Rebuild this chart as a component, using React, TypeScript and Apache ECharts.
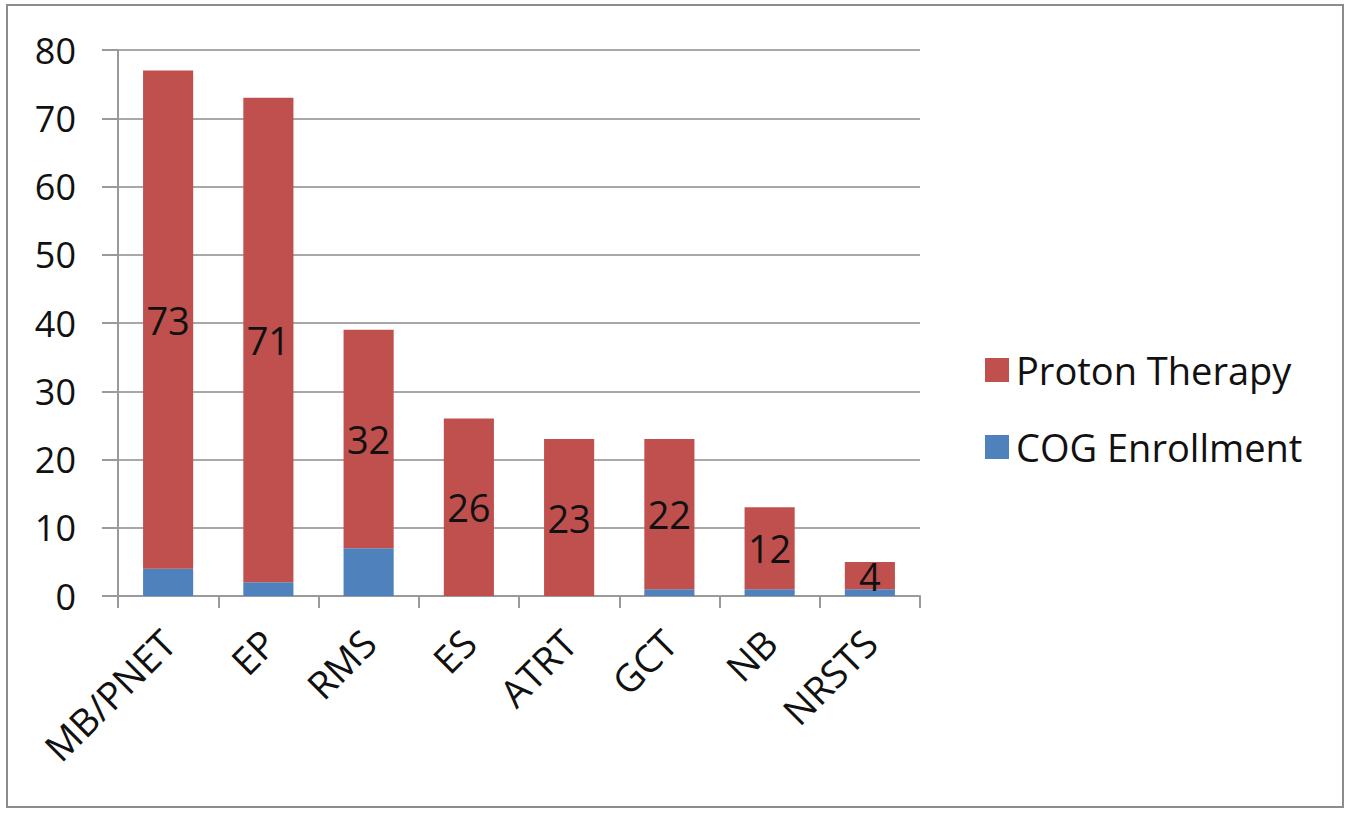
import React, { useEffect, useRef } from "react";
import * as echarts from "echarts";

const categories = ["MB/PNET", "EP", "RMS", "ES", "ATRT", "GCT", "NB", "NRSTS"];
const cogEnrollment = [4, 2, 7, 0, 0, 1, 1, 1];
const protonTherapy = [73, 71, 32, 26, 23, 22, 12, 4];
const yTicks = { min: 0, max: 80, interval: 10 };

const FONT = "'Open Sans', 'DejaVu Sans', sans-serif";

export default function App() {
  const ref = useRef<HTMLDivElement>(null);
  useEffect(() => {
    if (!ref.current) return;
    const chart = echarts.init(ref.current, undefined, { renderer: "svg" });
    chart.setOption({
      animation: false,
      backgroundColor: "#ffffff",
      graphic: [
        {
          type: "rect",
          shape: { x: 7, y: 5, width: 1336, height: 802 },
          style: { fill: "none", stroke: "#8c8c8c", lineWidth: 2 },
          silent: true,
        },
      ],
      legend: {
        orient: "vertical",
        left: 980,
        top: 345,
        itemWidth: 24,
        itemHeight: 24,
        itemGap: 37,
        data: ["Proton Therapy", "COG Enrollment"],
        textStyle: {
          fontSize: 38,
          lineHeight: 40,
          color: "#111",
          fontFamily: FONT,
          padding: [0, 0, 0, 2],
        },
        icon: "rect",
      },
      grid: { left: 118, right: 431, top: 50, bottom: 217 },
      xAxis: {
        type: "category",
        data: categories,
        axisLine: { lineStyle: { color: "#9a9a9a", width: 2 } },
        axisTick: { show: true, length: 12, lineStyle: { color: "#9a9a9a", width: 2 } },
        axisLabel: {
          rotate: 45,
          fontSize: 38,
          color: "#111",
          fontFamily: FONT,
          margin: 40,
          interval: 0,
        },
      },
      yAxis: {
        type: "value",
        min: yTicks.min,
        max: yTicks.max,
        interval: yTicks.interval,
        axisLine: { show: true, lineStyle: { color: "#9a9a9a", width: 2 } },
        axisTick: { show: true, length: 16, lineStyle: { color: "#9a9a9a", width: 2 } },
        splitLine: { lineStyle: { color: "#a8a8a8", width: 2 } },
        axisLabel: { fontSize: 36, color: "#111", fontFamily: FONT, margin: 42 },
      },
      series: [
        {
          name: "COG Enrollment",
          type: "bar",
          stack: "total",
          data: cogEnrollment,
          barWidth: "50%",
          itemStyle: { color: "#4F81BD" },
        },
        {
          name: "Proton Therapy",
          type: "bar",
          stack: "total",
          data: protonTherapy,
          barWidth: "50%",
          itemStyle: { color: "#C0504D" },
          label: {
            show: true,
            position: "inside",
            fontSize: 38,
            color: "#111",
            fontFamily: FONT,
          },
        },
      ],
    });
    return () => chart.dispose();
  }, []);
  return (
    <div
      ref={ref}
      style={{ position: "fixed", left: 0, top: 0, width: 1351, height: 813 }}
    />
  );
}
